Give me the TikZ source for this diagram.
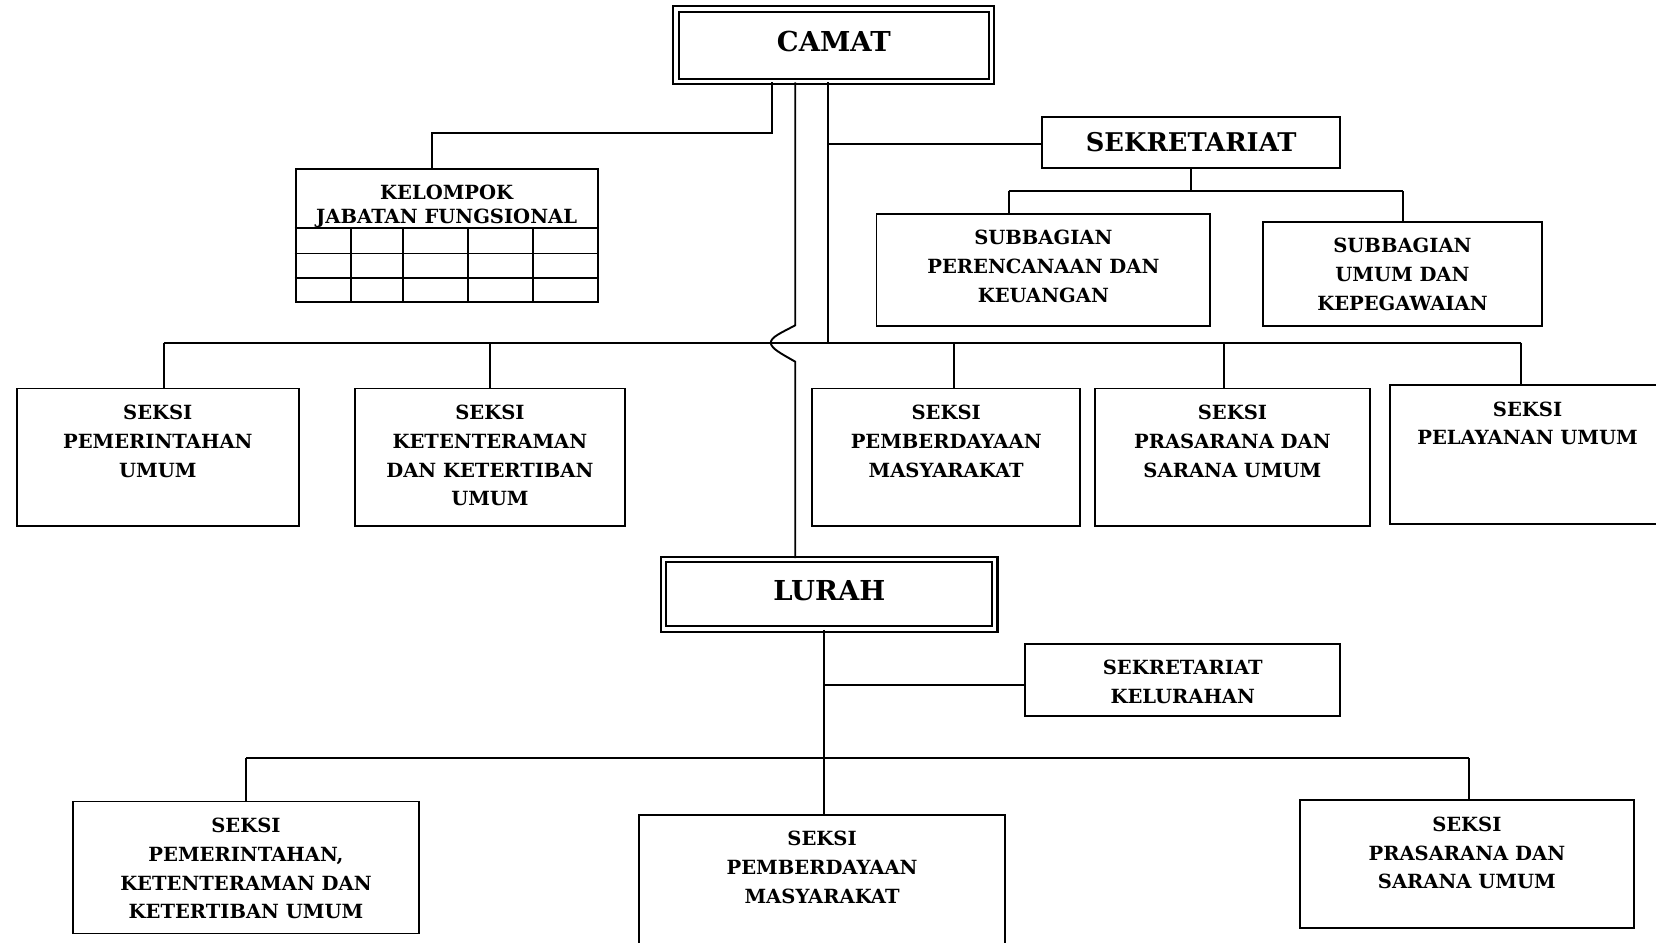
\documentclass[tikz,border=0pt]{standalone}
\usepackage{fontspec}
\setmainfont{DejaVu Serif}
\newcommand{\isikotak}[3]{\parbox[c][\dimexpr #2pt/2\relax][t]{\dimexpr #1pt/2\relax}{\centering\rule{0pt}{14.5pt}#3\par}}
\tikzset{
  garis/.style={line width=0.9pt},
  kotak/.style={draw, line width=0.9pt, inner sep=0pt, anchor=north west, font=\bfseries\fontsize{9.25}{13.7}\selectfont},
  pimpinan/.style={draw, double, double distance=1.5pt, line width=1pt, inner sep=0pt, text depth=3.7pt, font=\bfseries\fontsize{13}{15}\selectfont}
}
\begin{document}
\begin{tikzpicture}[x=0.5pt,y=-0.5pt]
\useasboundingbox (0,0) rectangle (1568,892);
\node[pimpinan, minimum width=149.5pt, minimum height=34.25pt] (camat) at (789.5,42.75) {CAMAT};
\node[pimpinan, minimum width=156.75pt, minimum height=33pt] (lurah) at (785.25,562.5) {LURAH};
\node[kotak, minimum width=141pt, minimum height=24pt, font=\bfseries\fontsize{12.2}{15}\selectfont] (sek) at (986,110) {SEKRETARIAT};
\node[kotak] (kel) at (279,159) {\isikotak{286}{126}{KELOMPOK\\[-2.2pt]JABATAN FUNGSIONAL}};
\node[kotak] (sb1) at (829,202) {\isikotak{316}{106}{SUBBAGIAN\\PERENCANAAN DAN\\KEUANGAN}};
\node[kotak] (sb2) at (1195,209) {\isikotak{264}{99}{SUBBAGIAN\\UMUM DAN\\KEPEGAWAIAN}};
\node[kotak] (s1) at (15,367) {\isikotak{267}{130}{SEKSI\\PEMERINTAHAN\\UMUM}};
\node[kotak] (s2) at (335,367) {\isikotak{256}{130}{SEKSI\\KETENTERAMAN\\DAN KETERTIBAN\\UMUM}};
\node[kotak] (s3) at (768,367) {\isikotak{254}{130}{SEKSI\\PEMBERDAYAAN\\MASYARAKAT}};
\node[kotak] (s4) at (1036,367) {\isikotak{260}{130}{SEKSI\\PRASARANA DAN\\SARANA UMUM}};
\node[kotak] (s5) at (1315,364) {\isikotak{261}{131}{SEKSI\\PELAYANAN UMUM}};
\node[kotak] (sekkel) at (970,609) {\isikotak{298}{68}{SEKRETARIAT\\KELURAHAN}};
\node[kotak] (k1) at (68,758) {\isikotak{328}{125}{SEKSI\\PEMERINTAHAN,\\KETENTERAMAN DAN\\KETERTIBAN UMUM}};
\node[kotak] (k2) at (604,771) {\isikotak{347}{140}{SEKSI\\PEMBERDAYAAN\\MASYARAKAT}};
\node[kotak] (k3) at (1230,757) {\isikotak{316}{121}{SEKSI\\PRASARANA DAN\\SARANA UMUM}};
\foreach \y in {216,240,263} \draw[garis] (279,\y) -- (565,\y);
\foreach \x in {332,382,443,505} \draw[garis] (\x,216) -- (\x,285);
\coordinate (ja) at (731,126);
\coordinate (jk) at (409,126);
\coordinate (jb) at (753,308);
\coordinate (jm) at (729.8,324.5);
\coordinate (jb2) at (753,342.5);
\coordinate (jc) at (784,136);
\coordinate (w1) at (955,181);
\coordinate (w2) at (1328,181);
\coordinate (t1) at (155,324.5);
\coordinate (t2) at (464,324.5);
\coordinate (t3) at (903,324.5);
\coordinate (t4) at (1159,324.5);
\coordinate (t5) at (1440,324.5);
\coordinate (v) at (780,649);
\coordinate (u1) at (233,718);
\coordinate (u3) at (1391,718);
\draw[garis] (ja |- camat.south) -- (ja) -- (jk) -- (jk |- kel.north);
\draw[garis] (jb |- camat.south) -- (jb) .. controls (740,315) and (730,319) .. (jm) .. controls (730,330) and (740,335) .. (jb2) -- (jb2 |- lurah.north);
\draw[garis] (jc |- camat.south) -- (jc |- t1);
\draw[garis] (jc) -- (jc -| sek.west);
\draw[garis] (sek.south) -- (sek.south |- w1);
\draw[garis] (w1) -- (w2);
\draw[garis] (w1) -- (w1 |- sb1.north);
\draw[garis] (w2) -- (w2 |- sb2.north);
\draw[garis] (t1) -- (t5);
\foreach \t/\n in {t1/s1,t2/s2,t3/s3,t4/s4,t5/s5} \draw[garis] (\t) -- (\t |- \n.north);
\draw[garis] (v |- lurah.south) -- (v |- k2.north);
\draw[garis] (v) -- (v -| sekkel.west);
\draw[garis] (u1) -- (u3);
\draw[garis] (u1) -- (u1 |- k1.north);
\draw[garis] (u3) -- (u3 |- k3.north);
\end{tikzpicture}
\end{document}
